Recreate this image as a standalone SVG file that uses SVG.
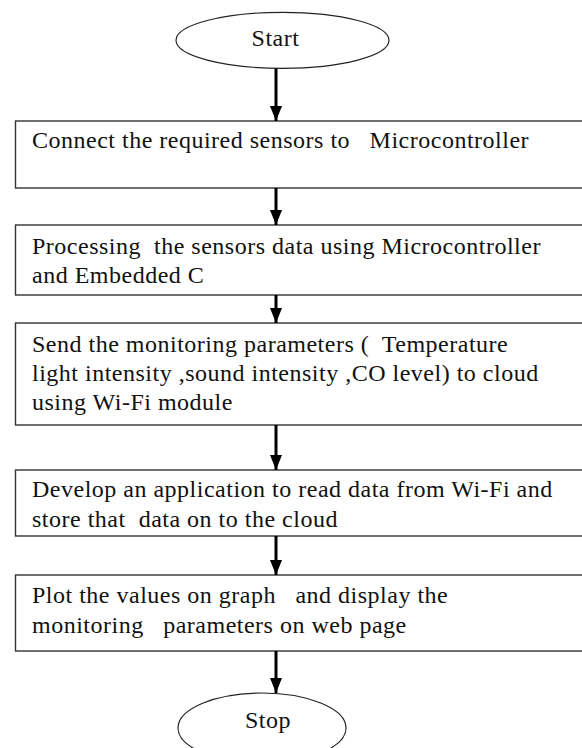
<svg xmlns="http://www.w3.org/2000/svg" width="582" height="748" viewBox="0 0 582 748">
<style>
  .t { font-family: "Liberation Serif", "Times New Roman", serif; font-size: 24px; fill: #111; letter-spacing: 0.5px; white-space: pre; }
  .box { fill: #fff; stroke: #333; stroke-width: 1.4; }
  .term { fill: #fff; stroke: #222; stroke-width: 1.2; }
  .conn { stroke: #000; stroke-width: 3; fill: none; }
</style>
<defs>
  <marker id="ah" markerWidth="5" markerHeight="4" refX="5" refY="2" orient="auto" markerUnits="strokeWidth">
    <path d="M0,0 L5,2 L0,4 Z" fill="#000"/>
  </marker>
</defs>
<rect width="582" height="748" fill="#fff"/>
<g id="start">
  <ellipse class="term" cx="282.5" cy="40.3" rx="106.5" ry="28"/>
  <text class="t" x="275.5" y="46" text-anchor="middle" xml:space="preserve">Start</text>
</g>
<g id="step1">
  <rect class="box" x="15.5" y="121" width="580" height="67"/>
  <text class="t" x="32" y="148" xml:space="preserve">Connect the required sensors to   Microcontroller</text>
</g>
<g id="step2">
  <rect class="box" x="15.5" y="225" width="580" height="70"/>
  <text class="t" x="32" y="254" xml:space="preserve">Processing  the sensors data using Microcontroller</text>
  <text class="t" x="32" y="283" xml:space="preserve">and Embedded C</text>
</g>
<g id="step3">
  <rect class="box" x="15.5" y="323" width="580" height="102"/>
  <text class="t" x="32" y="352" xml:space="preserve">Send the monitoring parameters (  Temperature</text>
  <text class="t" x="32" y="381" xml:space="preserve">light intensity ,sound intensity ,CO level) to cloud</text>
  <text class="t" x="32" y="410" xml:space="preserve">using Wi-Fi module</text>
</g>
<g id="step4">
  <rect class="box" x="15.5" y="470" width="580" height="66"/>
  <text class="t" x="32" y="497" xml:space="preserve">Develop an application to read data from Wi-Fi and</text>
  <text class="t" x="32" y="527" xml:space="preserve">store that  data on to the cloud</text>
</g>
<g id="step5">
  <rect class="box" x="15.5" y="575" width="580" height="76"/>
  <text class="t" x="32" y="603" xml:space="preserve">Plot the values on graph   and display the</text>
  <text class="t" x="32" y="633" xml:space="preserve">monitoring   parameters on web page</text>
</g>
<g id="stop">
  <ellipse class="term" cx="262" cy="728" rx="84" ry="35"/>
  <text class="t" x="268" y="728" text-anchor="middle" xml:space="preserve">Stop</text>
</g>
<g id="connectors">
  <line class="conn" x1="276" y1="68.5" x2="276" y2="121" marker-end="url(#ah)"/>
  <line class="conn" x1="276" y1="188" x2="276" y2="225" marker-end="url(#ah)"/>
  <line class="conn" x1="276" y1="295" x2="276" y2="323" marker-end="url(#ah)"/>
  <line class="conn" x1="276" y1="425" x2="276" y2="470" marker-end="url(#ah)"/>
  <line class="conn" x1="276" y1="536" x2="276" y2="575" marker-end="url(#ah)"/>
  <line class="conn" x1="276" y1="651" x2="276" y2="693" marker-end="url(#ah)"/>
</g>
</svg>
